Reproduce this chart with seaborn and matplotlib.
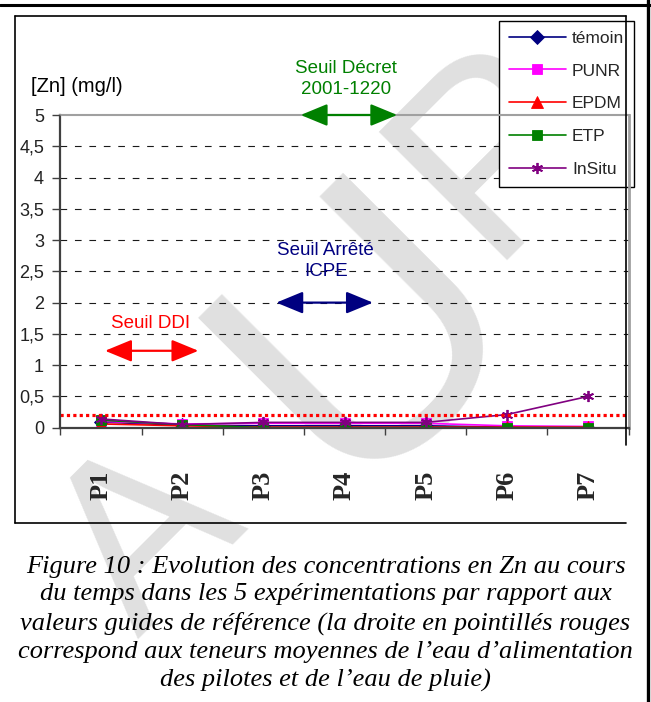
import matplotlib
matplotlib.use("Agg")
import matplotlib.pyplot as plt
import numpy as np
import pandas as pd
import seaborn as sns
from matplotlib.lines import Line2D

# ---------------- data ----------------
categories = ["P1", "P2", "P3", "P4", "P5", "P6", "P7"]
temoin = [0.09, 0.04, 0.03, 0.03, 0.03, 0.01, 0.00]
punr = [0.10, 0.06, 0.07, 0.07, 0.07, 0.03, 0.02]
epdm = [0.06, 0.03, 0.01, 0.01, 0.01, 0.01, 0.01]
etp = [0.12, 0.05, 0.00, 0.00, 0.00, 0.00, 0.00]
insitu = [0.14, 0.05, 0.085, 0.085, 0.085, 0.21, 0.50]
series_names = ["témoin", "PUNR", "EPDM", "ETP", "InSitu"]
series_values = [temoin, punr, epdm, etp, insitu]
mean_feed_water = 0.21
y_ticks = [0, 0.5, 1, 1.5, 2, 2.5, 3, 3.5, 4, 4.5, 5]
y_tick_labels = ["0", "0,5", "1", "1,5", "2", "2,5", "3", "3,5", "4", "4,5", "5"]
threshold_labels = ["Seuil Décret\n2001-1220", "Seuil Arrêté\nICPE", "Seuil DDI"]
threshold_levels = [5.0, 2.0, 1.23]
threshold_spans = [(2.46, 3.65), (2.16, 3.35), (0.05, 1.20)]
threshold_label_pos = [(3.02, 5.57), (2.77, 2.67), (0.61, 1.66)]
y_label = "[Zn] (mg/l)"
caption = ("Figure 10 : Evolution des concentrations en Zn au cours\n"
           "du temps dans les 5 expérimentations par rapport aux\n"
           "valeurs guides de référence (la droite en pointillés rouges\n"
           "correspond aux teneurs moyennes de l\u2019eau d\u2019alimentation\n"
           "des pilotes et de l\u2019eau de pluie)")
watermark_letters = ["A", "U", "P"]

# ---------------- style ----------------
series_colors = ["#000080", "#FF00FF", "#FF0000", "#008000", "#800080"]
series_markers = ["D", "s", "^", "s", (6, 2, 0)]
series_msize = [7, 7.5, 8, 6.5, 8]
threshold_colors = ["#008000", "#000080", "#FF0000"]

sns.set_theme(style="white")
plt.rcParams["font.family"] = ["Liberation Sans", "DejaVu Sans"]

W, H = 651, 702
fig = plt.figure(figsize=(W / 100, H / 100), dpi=100)
fig.patch.set_facecolor("white")

def fx(px):
    return px / W

def fy(py):
    return 1 - py / H

ax = fig.add_axes([fx(60.4), fy(427.7), fx(628.6) - fx(60.4), fy(115) - fy(427.7)])
ax.set_facecolor("white")

x = np.arange(len(categories))
for name, vals, c, m, ms in zip(series_names, series_values, series_colors,
                                series_markers, series_msize):
    df = pd.DataFrame({"pos": x, "val": vals})
    sns.lineplot(data=df, x="pos", y="val", ax=ax, color=c, marker=m,
                 markersize=ms, markeredgecolor=c, markerfacecolor=c,
                 markeredgewidth=1.3 if m == (6, 2, 0) else 0.6,
                 linewidth=1.2, label=name, zorder=7, sort=False)

# mean feed water dotted line
ax.axhline(mean_feed_water, color="#FF0000", lw=2.3, linestyle=(0, (1, 1)),
           zorder=7)

# dashed gridlines
for v in y_ticks[1:-1]:
    ax.axhline(v, color="#1a1a1a", lw=0.8, linestyle=(0, (6, 7)), zorder=6)

ax.set_xlim(-0.5, len(categories) - 0.5)
ax.set_ylim(0, 5)
ax.set_xlabel("")
ax.set_ylabel("")

ax.set_yticks(y_ticks)
ax.set_yticklabels(y_tick_labels)
ax.set_xticks(x)
ax.set_xticklabels(categories, rotation=90, fontfamily="Liberation Serif",
                   fontweight="bold", fontsize=19)
ax.set_xticks(np.arange(-0.5, len(categories), 1), minor=True)
ax.tick_params(axis="x", which="major", length=0, pad=31, bottom=True)
ax.tick_params(axis="x", which="minor", length=5, width=1, color="#404040",
               direction="out", bottom=True)
ax.tick_params(axis="y", which="major", length=5.8, width=1, color="#404040",
               direction="out", left=True, labelsize=13, pad=6,
               labelcolor="#222222")

for side, col, lw in [("left", "#404040", 1.6), ("bottom", "#404040", 1.6),
                      ("top", "#a0a0a0", 1.5), ("right", "#a0a0a0", 2.0)]:
    ax.spines[side].set_color(col)
    ax.spines[side].set_linewidth(lw)
    ax.spines[side].set_zorder(7)
ax.xaxis.set_zorder(7)
ax.yaxis.set_zorder(7)

# threshold arrows + labels
for lab, lvl, (x0, x1), (tx, ty), c in zip(threshold_labels, threshold_levels,
                                            threshold_spans, threshold_label_pos,
                                            threshold_colors):
    ax.annotate("", xy=(x1, lvl), xytext=(x0, lvl),
                arrowprops=dict(arrowstyle="<|-|>,head_length=1.65,head_width=0.68",
                                mutation_scale=10, color=c, lw=1.6,
                                shrinkA=0, shrinkB=0),
                annotation_clip=False, zorder=8)
    ax.text(tx, ty, lab, ha="center", va="center", color=c, fontsize=13.5,
            linespacing=1.3, multialignment="center", zorder=8, clip_on=False)

# legend
leg = ax.legend(loc="upper left", bbox_to_anchor=(fx(499), fy(21)),
                bbox_transform=fig.transFigure, frameon=True, fancybox=False,
                edgecolor="black", framealpha=1, fontsize=12.5,
                handlelength=3.3, handletextpad=0.35, labelspacing=1.02,
                borderpad=0.55, borderaxespad=0)
leg.get_frame().set_linewidth(1.0)
leg.set_zorder(6.5)

# watermark (kept within the canvas)
for ch, (px, py), fs in zip(watermark_letters,
                            [(150, 540), (372, 335), (500, 150)],
                            [170, 260, 190]):
    ax.text(fx(px), fy(py), ch, transform=fig.transFigure, rotation=45,
            fontsize=fs, color="#e0e0e0", ha="center", va="center",
            zorder=5.5, clip_on=False, fontfamily="Liberation Sans")

# y label
fig.text(fx(31), fy(87), y_label, ha="left", va="center", fontsize=14.5,
         color="black")

# inner chart box
for xs, ys in [([15, 15], [16, 523]), ([15, 626], [16, 16]),
               ([15, 626], [523, 523]), ([626, 626], [16, 445])]:
    fig.add_artist(Line2D([fx(v) for v in xs], [fy(v) for v in ys],
                          transform=fig.transFigure, color="black", lw=1.2))
# outer frame (top and right)
fig.add_artist(Line2D([0, 1], [fy(5), fy(5)], transform=fig.transFigure,
                      color="black", lw=2.2))
fig.add_artist(Line2D([fx(648), fx(648)], [0, 1], transform=fig.transFigure,
                      color="black", lw=2.4))

# caption
fig.text(0.5, fy(624), caption, ha="center", va="center",
         fontfamily="Liberation Serif", style="italic", fontsize=19.0,
         linespacing=1.35, multialignment="center", color="black")

fig.savefig("out.png", dpi=100, facecolor="white")
